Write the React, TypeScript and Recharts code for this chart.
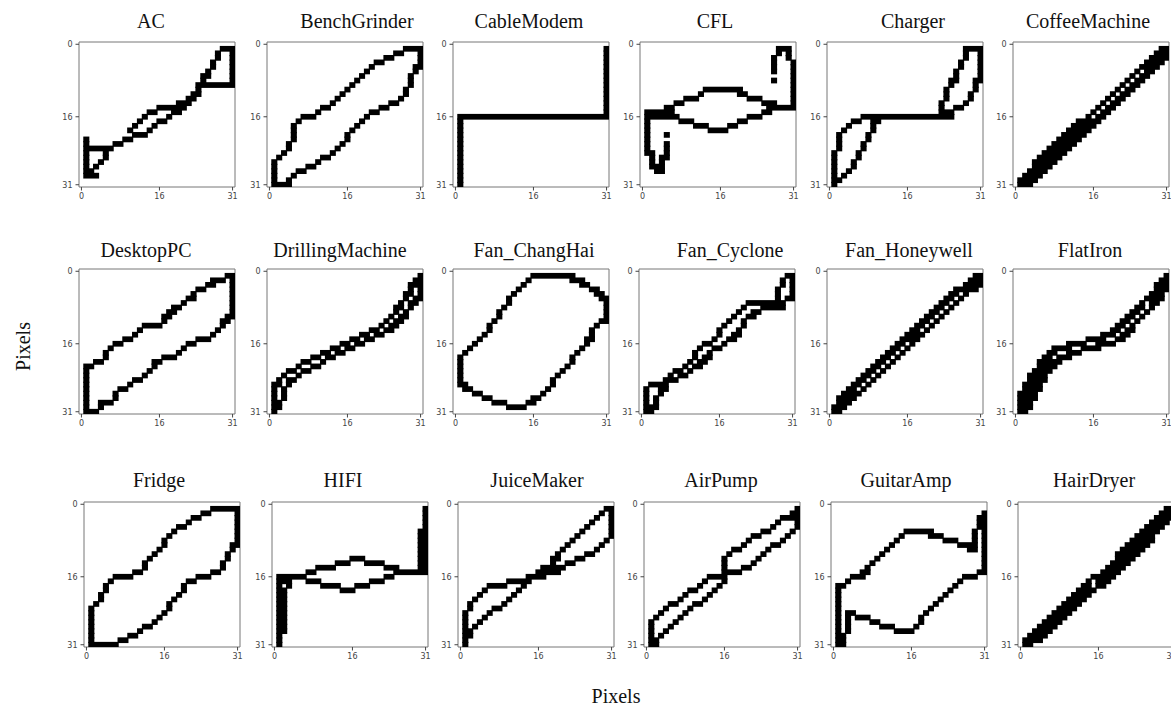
import { ReferenceArea, Scatter, ScatterChart, XAxis, YAxis } from 'recharts';

// 32x32 binary V-I images, one string per image row (row 0 = top).
// Each string lists the black pixel columns as runs: "a-b" or "c", comma separated.
const acRows = [
  '', '29-31', '28,31', '28,31', '27,31', '27,31', '26,31', '25-26,31', '25,31', '24-31',
  '24', '23-24', '22-23', '20-22', '16-21', '14-15,19-20', '13,18', '12,16-17', '11,15', '10,14',
  '11-13', '1,9-10', '1,7-8', '1-6', '1,5', '1,5', '1,4', '1,3', '1-2', '1-3', '', '',
];
const benchGrinderRows = [
  '', '28-31', '26-27,31', '24-25,31', '22-23,31', '21,30-31', '20,30', '19,29', '18,29', '17,29',
  '16,28', '15,28', '14,27', '13,25-26', '11-12,23-24', '10,21-22', '7-9,20', '6,19', '5,18', '5,17',
  '5,16', '5,16', '4,15', '4,14', '3,13', '2,11-12', '1,10', '1,8-9', '1,6-7', '1,5', '1,4', '1-4',
];
const cableModemRows = [
  '', '31', '31', '31', '31', '31', '31', '31', '31', '31',
  '31', '31', '31', '31', '31', '31', '1-31', '1', '1', '1',
  '1', '1', '1', '1', '1', '1', '1', '1', '1', '1', '1', '1',
];
const cflRows = [
  '', '28-30', '28,30', '27,30', '27,31', '27,31', '27,31', '31', '27,31', '31',
  '13-20,31', '12,20-21,31', '9-11,22-24,31', '7-8,25-27,31', '5-6,26-31', '1-6,25-26', '1-7,22-24', '1,8-10,20-21', '1,11-13,18-19', '1,14-17',
  '1,5', '1', '1,5', '1,5', '1-2,5', '2,4-5', '2,4', '2-4', '3-4', '', '', '',
];
const chargerRows = [
  '', '28-31', '28,31', '28,31', '27,31', '27,31', '26,31', '26,31', '25-26,30-31', '25,30',
  '24,30', '24,29', '24,29', '23,28', '23,26-27', '23-25', '7-25', '5-6,9-10', '4,9', '3,9',
  '2,8', '2,8', '2,7', '2,7', '1,6', '1,6', '1,5', '1,5', '1,4', '1,3', '1-2', '1',
];
const coffeeMachineRows = [
  '', '30-31', '29-31', '28-31', '27-30', '26-29', '25,27-28', '24,26-27', '23,25-26', '22,24-25',
  '21,23-24', '20,22-23', '19,21-22', '18,20-21', '17,19-20', '16,18-19', '15,17-18', '13-17', '12-16', '11-15',
  '10-14', '9-13', '8-12', '7-11', '6-10', '5-9', '4-8', '4-7', '3-6', '2-5', '1-4', '1-3',
];
const desktopPcRows = [
  '', '30-31', '27-29,31', '26-27,31', '24-25,31', '23,31', '22-23,31', '21,31', '19-20,31', '18-19,31',
  '17-18,30-31', '17,29-30', '13-16,29', '12,28', '11,27', '9-10,24-26', '7-8,22-23', '6,21', '5,20', '5,17-19',
  '3-4,15-16', '1-2,15', '1,14', '1,13', '1,11-12', '1,10', '1,8-9', '1,7', '1,7', '1,4-6', '1,4', '1-3',
];
const drillingMachineRows = [
  '', '31', '30-31', '29-31', '29,31', '28-29,31', '28,30-31', '27,29-30', '26-27,29', '26,28',
  '25,27-28', '24,26-27', '23,25-26', '21-22,24-25', '19-20,22-23', '17-18,20-21', '15-16,18-19', '13-14,16-17', '11-12,14-15', '9-10,12-13',
  '7-8,11', '6,9-10', '4-5,7-8', '3,6', '2,4-5', '1-2,4', '1,3', '1,3', '1,3', '1-2', '1-2', '1',
];
const fanChangHaiRows = [
  '', '16-24', '15,24-26', '14,26-27', '13,28-29', '12,29-30', '11,30-31', '11,31', '10,31', '9,31',
  '9,31', '8,30-31', '7,29', '7,28', '6,28', '5,27-28', '4,27', '3,26', '2,25', '1,24',
  '1,24', '1,23', '1,22', '1,21', '1,20', '1-2,20', '2-3,19', '4-5,18', '6-7,16-17', '8-10,15-16', '11-14', '',
];
const fanCycloneRows = [
  '', '30-31', '29,31', '29,31', '28,31', '28,31', '28,30-31', '22-29', '21,25-29', '20,23-24',
  '19,22-23', '18,21', '17,21', '16,20', '16,19-20', '15,18-19', '13-14,17', '12,15-16', '11,14', '11,13-14',
  '10,12-13', '9,11-12', '7-8,10', '6,8-9', '5-7', '2-5', '1,4-5', '1,4', '1,3', '1,3', '1-3', '1-2',
];
const fanHoneywellRows = [
  '', '30-31', '29-31', '28-31', '26-30', '25-26,28', '24-25,27', '23-24,26', '22-23,25', '21-22,24',
  '20-21,23', '19-20,22', '18-19,21', '17-18,20', '16-19', '15-18', '14-15,17', '13-14,16', '12-13,15', '11-12,14',
  '10-11,13', '9-10,12', '8-9,11', '7-8,10', '6-7,9', '5-6,8', '4-5,7', '3-6', '2-5', '2-4', '1-3', '1-2',
];
const flatIronRows = [
  '', '31', '30-31', '29-31', '29-31', '28-30', '27-30', '26,28-29', '25-26,28', '24-25,27',
  '23-24,26', '22-23,25', '21-22,24', '20-21,23-24', '18-20,22-23', '15-18,21-22', '11-14,17-20', '8-11,14-17', '7-8,11-13', '6-7,9-11',
  '5-9', '5-8', '4-7', '3-6', '3-6', '2-5', '2-5', '1-4', '1-4', '1-3', '1-3', '1-2',
];
const fridgeRows = [
  '', '26-31', '24-25,31', '22-23,31', '21,31', '19-20,31', '18,31', '17,31', '16,31', '16,30-31',
  '15,30', '14,29', '13,29', '12,28', '12,28', '10-11,26-27', '6-9,23-25', '5,21-22', '4,20', '4,20',
  '3,19', '3,18', '2,17', '1,17', '1,16', '1,15', '1,14', '1,12-13', '1,11', '1,9-10', '1,7-8', '1-6',
];
const hifiRows = [
  '', '31', '31', '31', '31', '31', '30-31', '30-31', '30-31', '30-31',
  '30-31', '30-31', '16-18,30-31', '13-15,19-22,30-31', '9-12,23-25,30-31', '7-8,25-31', '1-6,23-24', '1-3,7-9,20-22', '1,3,10-13,17-19', '1-2,14-16',
  '1-2', '1-2', '1-2', '1-2', '1-2', '1-2', '1-2', '1-2', '1-2', '1', '1', '1',
];
const juiceMakerRows = [
  '', '30-31', '29,31', '28,31', '27,31', '26,31', '25,31', '24,31', '23,30', '22,29',
  '21,28', '20,26-27', '19-20,24-25', '19,22-23', '17-21', '16-20', '14-17', '10-14', '6-9,13', '5,12',
  '4,11', '3,10', '2,9', '2,7-8', '1,6', '1,5', '1,4', '1,3', '1,2', '1-2', '1', '1',
];
const airPumpRows = [
  '', '31', '30-31', '28-31', '27,31', '26,31', '24-25,30', '22-23,29', '21,28', '20,26-27',
  '18-19,25', '17,24', '16,23', '16,22', '16,20-21', '16-19', '13-16', '12,16', '11,15', '9-10,14',
  '8,13', '7,12', '5-6,10-11', '4,9', '3,8', '2,7', '1,6', '1,5', '1,4', '1,3', '1-2', '1-2',
];
const guitarAmpRows = [
  '', '', '31', '30-31', '30-31', '30-31', '15-20,29,31', '14,20-22,29,31', '13,23-25,29,31', '12,26-29,31',
  '11,28-29,31', '10,31', '9,31', '8,31', '7,31', '6-7,30-31', '4-6,27-29', '3,26', '1-2,25', '1,24',
  '1,23', '1,22', '1,21', '1,20', '1,3-4,19', '1,3,5-7,18', '1,3,8-9,18', '1,3,10-12,17', '1,3,13-16', '1-2', '1-2', '1-2',
];
const hairDryerRows = [
  '', '30-31', '29-31', '28-31', '27-30', '26-29', '25-28', '24-27', '23-27', '22-26',
  '21-25', '20-24', '20-23', '19-22', '18-21', '17-20', '15-19', '14,16-18', '13-14,16-17', '12-15',
  '11-14', '10-13', '9-12', '8-11', '7-10', '6-9', '5-8', '4-7', '3-6', '2-5', '1-4', '1-2',
];

const titles = [
  'AC', 'BenchGrinder', 'CableModem', 'CFL', 'Charger', 'CoffeeMachine',
  'DesktopPC', 'DrillingMachine', 'Fan_ChangHai', 'Fan_Cyclone', 'Fan_Honeywell', 'FlatIron',
  'Fridge', 'HIFI', 'JuiceMaker', 'AirPump', 'GuitarAmp', 'HairDryer',
];
const images = [
  acRows, benchGrinderRows, cableModemRows, cflRows, chargerRows, coffeeMachineRows,
  desktopPcRows, drillingMachineRows, fanChangHaiRows, fanCycloneRows, fanHoneywellRows, flatIronRows,
  fridgeRows, hifiRows, juiceMakerRows, airPumpRows, guitarAmpRows, hairDryerRows,
];
const tickValues = [0, 16, 31];

// layout
const BOX_W = 156;
const BOX_H = 145;
const Y_AXIS_W = 24;
const X_AXIS_H = 22;
const PAD = 3;
const CELL_W = BOX_W / 32;
const CELL_H = BOX_H / 32;
const BLEED = 0.6; // the source raster is slightly blurred, strokes look a bit fatter
const rowTops = [41.7, 269, 501.7];
const colLefts = [
  [79.3, 266.7, 453.3, 640, 826.7, 1012.7],
  [79.3, 266.7, 452.7, 639.3, 826.7, 1013.3],
  [84.3, 271.7, 458.3, 644.3, 831, 1018.3],
];
const titleCenters = [
  [151, 357, 529, 715, 913, 1088],
  [146, 340, 534, 730, 909, 1090],
  [159, 343, 537, 721, 906, 1094],
];
const titleBaselines = [28, 257, 487];

const tickStyle = { fontSize: 8, fill: '#444', fontFamily: 'DejaVu Sans' };

function toRuns(rows: string[]) {
  const out: { x: number; y: number; len: number }[] = [];
  rows.forEach((row, y) => {
    if (!row) return;
    row.split(',').forEach((part) => {
      const [a, b] = part.split('-');
      const start = Number(a);
      const end = b === undefined ? start : Number(b);
      out.push({ x: start, y, len: end - start + 1 });
    });
  });
  return out;
}

function PixelRun(props: any) {
  const { cx, cy, payload } = props;
  if (cx == null || cy == null) return null;
  return (
    <rect
      x={cx - CELL_W / 2 - BLEED}
      y={cy - CELL_H / 2 - BLEED}
      width={payload.len * CELL_W + 2 * BLEED}
      height={CELL_H + 2 * BLEED}
      fill="#000"
    />
  );
}

function Panel({ rows, left, top }: { rows: string[]; left: number; top: number }) {
  const data = toRuns(rows);
  return (
    <div style={{ position: 'absolute', left: left - Y_AXIS_W, top: top - PAD }}>
      <ScatterChart
        width={Y_AXIS_W + BOX_W + PAD}
        height={PAD + BOX_H + X_AXIS_H}
        margin={{ top: PAD, right: PAD, bottom: 0, left: 0 }}
      >
        <XAxis
          type="number"
          dataKey="x"
          domain={[-0.5, 31.5]}
          ticks={tickValues}
          interval={0}
          allowDataOverflow
          height={X_AXIS_H}
          axisLine={false}
          tickSize={3.5}
          tickMargin={3}
          tickLine={{ stroke: '#444' }}
          tick={tickStyle}
        />
        <YAxis
          type="number"
          dataKey="y"
          domain={[-0.5, 31.5]}
          reversed
          ticks={tickValues}
          interval={0}
          allowDataOverflow
          width={Y_AXIS_W}
          axisLine={false}
          tickSize={3.5}
          tickMargin={3}
          tickLine={{ stroke: '#444' }}
          tick={tickStyle}
        />
        <ReferenceArea x1={-0.5} x2={31.5} y1={-0.5} y2={31.5} fill="none" stroke="#777" strokeWidth={1} />
        <Scatter data={data} shape={PixelRun} isAnimationActive={false} />
      </ScatterChart>
    </div>
  );
}

export default function App() {
  return (
    <div
      style={{
        position: 'absolute',
        left: 0,
        top: 0,
        width: 1171,
        height: 708,
        overflow: 'hidden',
        background: '#fff',
        fontFamily: '"Liberation Serif", "Times New Roman", serif',
      }}
    >
      {images.map((rows, i) => {
        const r = Math.floor(i / 6);
        const c = i % 6;
        return <Panel key={titles[i]} rows={rows} left={colLefts[r][c]} top={rowTops[r]} />;
      })}
      {titles.map((t, i) => {
        const r = Math.floor(i / 6);
        const c = i % 6;
        return (
          <div
            key={'t' + t}
            style={{
              position: 'absolute',
              left: titleCenters[r][c] - 100,
              width: 200,
              top: titleBaselines[r] - 18,
              textAlign: 'center',
              fontSize: 20,
              color: '#111',
              whiteSpace: 'nowrap',
            }}
          >
            {t}
          </div>
        );
      })}
      <div
        style={{
          position: 'absolute',
          left: 23 - 50,
          top: 347 - 12,
          width: 100,
          textAlign: 'center',
          fontSize: 20,
          transform: 'rotate(-90deg)',
          color: '#111',
        }}
      >
        Pixels
      </div>
      <div
        style={{
          position: 'absolute',
          left: 616 - 50,
          top: 703 - 18,
          width: 100,
          textAlign: 'center',
          fontSize: 20,
          color: '#111',
        }}
      >
        Pixels
      </div>
    </div>
  );
}
